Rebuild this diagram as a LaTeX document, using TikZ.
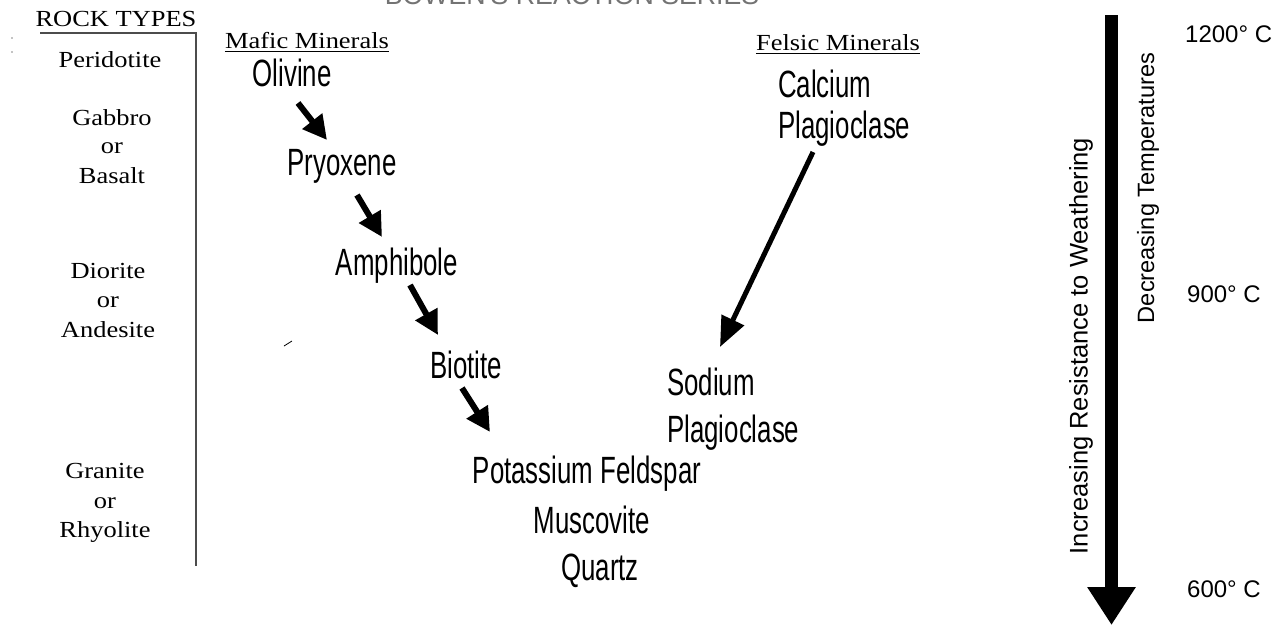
\documentclass[tikz,border=0pt]{standalone}
\usepackage{fontspec}
\setmainfont{Liberation Serif}
\newfontfamily\rockfont[FakeStretch=1.15]{Liberation Serif}
\newfontfamily\minfont[FakeStretch=0.68]{Liberation Sans}
\newfontfamily\labfont{Liberation Sans}
\usetikzlibrary{arrows.meta,calc}
\begin{document}
\begin{tikzpicture}[x=1pt,y=-1pt,
  rock/.style={inner sep=0pt, anchor=base, font=\rockfont\fontsize{23}{23}\selectfont},
  mineral/.style={inner sep=0pt, anchor=base, font=\minfont\fontsize{38}{38}\selectfont},
  mineralL/.style={mineral, anchor=base west},
  side/.style={inner sep=0pt, font=\labfont\fontsize{24}{24}\selectfont},
  temp/.style={side, anchor=west},
  flow/.style={line width=6pt, -{Triangle[length=24pt,width=24pt]}},
  frame/.style={line width=1.5pt, black!70},
  uline/.style={line width=1pt},
]
\useasboundingbox[fill=white] (0,0) rectangle (1282,625);

% clipped title
\node[inner sep=0pt, anchor=base, font=\labfont\fontsize{26.7}{27}\selectfont, text=black!55] (title) at (572,4) {BOWEN'S REACTION SERIES};

% rock types column
\node[rock] (rt) at (116,26) {ROCK TYPES};
\draw[frame] (40,33) -- (196,33) -- (196,566);
\node[rock] (perid) at (110,67) {Peridotite};
\node[rock] (gab) at (112,125) {Gabbro};
\node[rock] (gor) at (112,153) {or};
\node[rock] (bas) at (112,183) {Basalt};
\node[rock] (dio) at (108,278) {Diorite};
\node[rock] (dor) at (108,307) {or};
\node[rock] (and) at (108,337) {Andesite};
\node[rock] (gra) at (105,478) {Granite};
\node[rock] (gror) at (105,508) {or};
\node[rock] (rhy) at (105,537) {Rhyolite};

% headings
\node[rock] (mafic) at (307,48) {Mafic Minerals};
\draw[uline] ($(mafic.base west)+(0,3)$) -- ($(mafic.base east)+(0,3)$);
\node[rock] (felsic) at (838,50) {Felsic Minerals};
\draw[uline] ($(felsic.base west)+(0,3)$) -- ($(felsic.base east)+(0,3)$);

% mafic series
\node[mineral] (oli) at (292,86) {Olivine};
\node[mineral] (pyr) at (342,175) {Pryoxene};
\node[mineral] (amp) at (397,275) {Amphibole};
\node[mineral] (bio) at (466,378) {Biotite};
\node[mineral] (kfs) at (587,483) {Potassium Feldspar};
\node[mineral] (mus) at (592,533) {Muscovite};
\node[mineral] (qtz) at (600,580) {Quartz};

% felsic series
\node[mineralL] (cal) at (778,97) {Calcium};
\node[mineralL] (cplag) at (778,138) {Plagioclase};
\node[mineralL] (sod) at (667,395) {Sodium};
\node[mineralL] (nplag) at (667,442) {Plagioclase};

% arrows
\draw[flow] ($(oli.base)+(6,17)$) -- ($(pyr.base)+(-15,-35)$);
\draw[flow] ($(pyr.base)+(15,20)$) -- ($(amp.base)+(-15,-38)$);
\draw[flow] ($(amp.base)+(13,10)$) -- ($(bio.base)+(-28,-43)$);
\draw[flow] ($(bio.base)+(-4,10)$) -- ($(kfs.base)+(-97,-51)$);
\draw[line width=5pt, -{Triangle[length=30pt,width=24pt]}] ($(cplag.base west)+(35,14)$) -- ($(sod.base west)+(53,-48)$);

% stray marks
\draw[line width=0.8pt] (284,346) -- (292,341);
\fill (12,38) circle (0.6);
\fill (12,52) circle (0.6);

% right side scale
\coordinate (atop) at (1111.5,15);
\coordinate (abot) at (1111.5,625);
\draw[line width=13pt, -{Triangle[length=38pt,width=46pt]}] (atop) -- (abot);
\node[side, rotate=90, font=\labfont\fontsize{25.5}{25.5}\selectfont] (inc) at (1081,346) {Increasing Resistance to Weathering};
\node[side, rotate=90, font=\labfont\fontsize{23.6}{23.6}\selectfont] (dec) at (1148,188) {Decreasing Temperatures};
\node[temp] (t1200) at (1185,34) {1200° C};
\node[temp] (t900) at (1187,294) {900° C};
\node[temp] (t600) at (1187,589) {600° C};
\end{tikzpicture}
\end{document}
